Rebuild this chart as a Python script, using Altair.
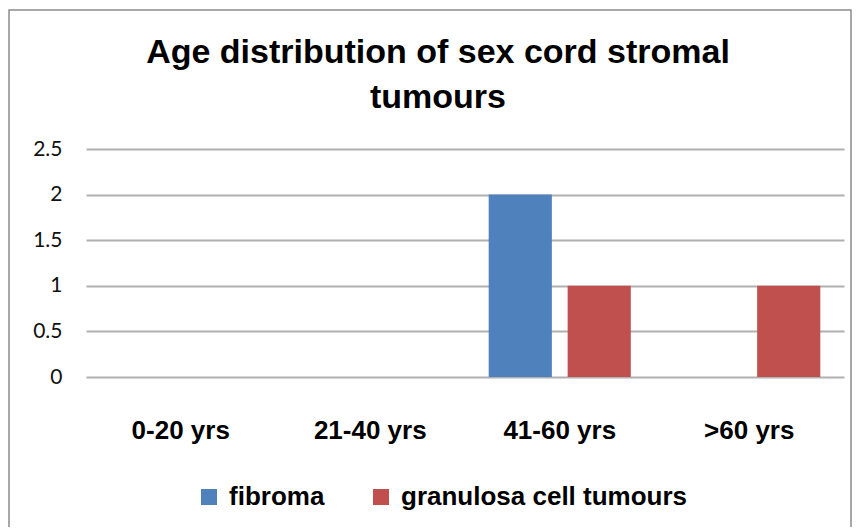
import altair as alt
import pandas as pd

categories = ["0-20 yrs", "21-40 yrs", "41-60 yrs", ">60 yrs"]
series = ["fibroma", "granulosa cell tumours"]
fibroma = [0, 0, 2, 0]
granulosa = [0, 0, 1, 1]
colors = ["#4F81BD", "#C0504D"]
y_ticks = [0, 0.5, 1, 1.5, 2, 2.5]

rows = []
for c, f, g in zip(categories, fibroma, granulosa):
    rows.append({"age": c, "series": series[0], "count": f})
    rows.append({"age": c, "series": series[1], "count": g})
df = pd.DataFrame(rows)

FONT = "Liberation Sans"

bars = alt.Chart(df).mark_bar().encode(
    x=alt.X("age:N", sort=categories, title=None,
            scale=alt.Scale(paddingInner=0, paddingOuter=0),
            axis=alt.Axis(labelAngle=0, labelFont=FONT, labelFontSize=26,
                          labelFontWeight="bold", labelColor="#000000",
                          labelPadding=40, ticks=False, domain=False, grid=False)),
    xOffset=alt.XOffset("series:N", sort=series,
                        scale=alt.Scale(paddingInner=0.2, paddingOuter=0.3)),
    y=alt.Y("count:Q", title=None,
            scale=alt.Scale(domain=[0, 2.5], nice=False),
            axis=alt.Axis(values=y_ticks, format="~g", labelFont="Lato",
                          labelFontSize=21, labelColor="#111111", labelPadding=24,
                          ticks=False, domain=False, grid=True,
                          gridColor="#b0b0b0", gridWidth=1.8)),
    color=alt.Color("series:N", sort=series,
                    scale=alt.Scale(domain=series, range=colors),
                    legend=alt.Legend(title=None, orient="none", legendX=110, legendY=335,
                                      direction="horizontal", symbolType="square",
                                      symbolSize=256, symbolStrokeWidth=0,
                                      labelFont=FONT, labelFontSize=26,
                                      labelFontWeight="bold", labelColor="#000000",
                                      labelOffset=7, columnPadding=43, labelLimit=0)),
)

border = alt.Chart(pd.DataFrame({"a": [0]})).mark_rect(
    fill=None, stroke="#8c8c8c", strokeWidth=1.5
).encode(
    x=alt.value(-77), x2=alt.value(765), y=alt.value(-139), y2=alt.value(600)
)

chart = alt.layer(border, bars).properties(
    width=758,
    height=228,
    title=alt.TitleParams(
        text=["Age distribution of sex cord stromal", "tumours"],
        font=FONT, fontSize=34, fontWeight="bold", color="#000000",
        anchor="middle", frame="group", dx=-27, lineHeight=45, offset=-106,
    ),
    autosize=alt.AutoSizeParams(type="none"),
    padding={"left": 78, "top": 141, "right": 8, "bottom": 150},
).configure(background="#ffffff").configure_view(stroke=None)

chart.save("out.html", embed_options={"renderer": "svg", "actions": False})
